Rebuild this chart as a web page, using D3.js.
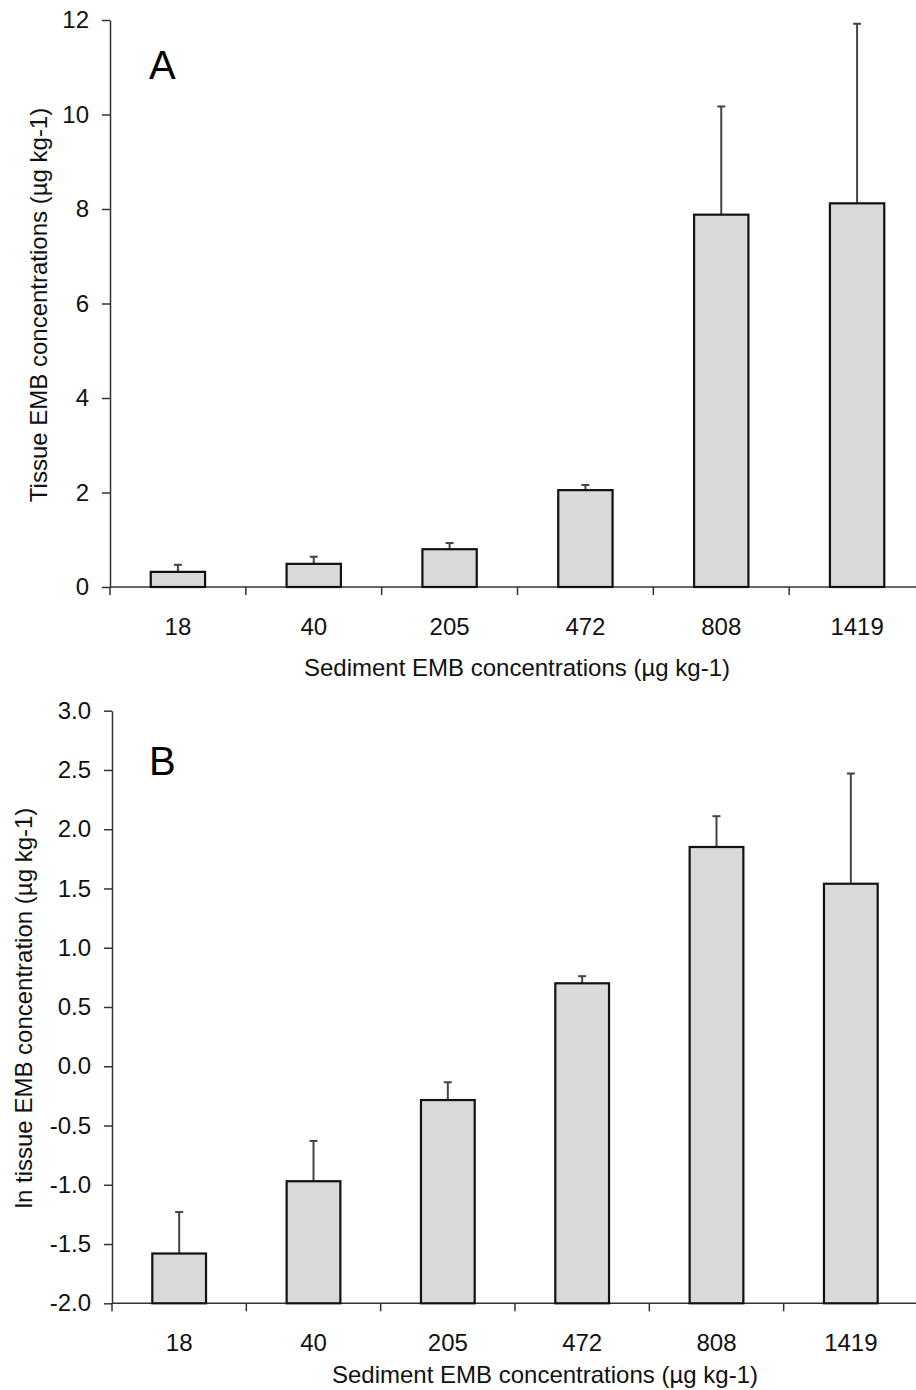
<!DOCTYPE html>
<html><head><meta charset="utf-8">
<script src="https://cdn.jsdelivr.net/npm/d3@7"></script>
<style>body{margin:0;background:#fff}svg{display:block;font-family:"Liberation Sans",Arial,sans-serif}</style>
</head><body><svg id="c" width="916" height="1390"></svg>
<script>
const categories = ["18","40","205","472","808","1419"];
const tissueA = [0.32, 0.49, 0.80, 2.05, 7.88, 8.12];
const errA    = [0.15, 0.15, 0.13, 0.11, 2.29, 3.80];
const lnTissueB = [-1.58, -0.97, -0.285, 0.70, 1.85, 1.54];
const errB      = [0.35, 0.34, 0.15, 0.06, 0.26, 0.93];
const ticksA = [0,2,4,6,8,10,12];
const ticksB = [-2,-1.5,-1,-0.5,0,0.5,1,1.5,2,2.5,3];

const FS = 24;
const svg = d3.select("#c");

function panel(cfg){
  const g = svg.append("g");
  const x = d3.scaleBand().domain(categories).range([cfg.x0, cfg.x1]).paddingInner(0.6).paddingOuter(0.3);
  const y = d3.scaleLinear().domain(cfg.domain).range([cfg.y0, cfg.y1]);
  const base = cfg.domain[0];
  // x axis
  const xa = g.append("g").attr("transform",`translate(0,${cfg.y0})`);
  const bounds = d3.range(categories.length+1).map(i=>cfg.x0 + i*(cfg.x1-cfg.x0)/categories.length);
  xa.append("line").attr("x1",cfg.x0).attr("x2",cfg.x1).attr("stroke","#333").attr("stroke-width",1.5);
  xa.selectAll("line.t").data(bounds).join("line").attr("class","t")
    .attr("x1",d=>d).attr("x2",d=>d).attr("y1",0).attr("y2",8).attr("stroke","#333").attr("stroke-width",1.5);
  xa.selectAll("text").data(categories).join("text")
    .attr("x",d=>x(d)+x.bandwidth()/2).attr("y",cfg.tickLabelY-cfg.y0)
    .attr("text-anchor","middle").attr("font-size",FS).attr("fill","#111").text(d=>d);
  // y axis
  const ya = g.append("g").attr("transform",`translate(${cfg.x0},0)`)
    .call(d3.axisLeft(y).tickValues(cfg.ticks).tickSize(8).tickSizeOuter(0).tickPadding(13).tickFormat(cfg.fmt));
  ya.select(".domain").attr("stroke","#333").attr("stroke-width",1.5);
  ya.selectAll(".tick line").attr("stroke","#333").attr("stroke-width",1.5);
  ya.selectAll(".tick text").attr("font-size",FS).attr("fill","#111").attr("font-family","Liberation Sans, Arial, sans-serif");
  // bars
  const vals = cfg.values;
  g.selectAll("line.err").data(vals).join("line").attr("class","err")
    .attr("x1",(d,i)=>x(categories[i])+x.bandwidth()/2).attr("x2",(d,i)=>x(categories[i])+x.bandwidth()/2)
    .attr("y1",d=>y(d)).attr("y2",(d,i)=>y(d+cfg.errs[i])).attr("stroke","#444").attr("stroke-width",2);
  g.selectAll("line.cap").data(vals).join("line").attr("class","cap")
    .attr("x1",(d,i)=>x(categories[i])+x.bandwidth()/2-4).attr("x2",(d,i)=>x(categories[i])+x.bandwidth()/2+4)
    .attr("y1",(d,i)=>y(d+cfg.errs[i])).attr("y2",(d,i)=>y(d+cfg.errs[i])).attr("stroke","#444").attr("stroke-width",2);
  g.selectAll("rect").data(vals).join("rect")
    .attr("x",(d,i)=>x(categories[i])).attr("width",x.bandwidth())
    .attr("y",d=>y(d)).attr("height",d=>y(base)-y(d))
    .attr("fill","#d9d9d9").attr("stroke","#111").attr("stroke-width",2.2);
  // titles
  g.append("text").attr("x",cfg.xTitleX).attr("y",cfg.xTitleY).attr("text-anchor","middle")
    .attr("font-size",FS).attr("fill","#111").text("Sediment EMB concentrations (µg kg-1)");
  g.append("text").attr("transform",`translate(${cfg.yTitleX},${cfg.yTitleCY}) rotate(-90)`)
    .attr("text-anchor","middle").attr("font-size",FS).attr("fill","#111").text(cfg.yTitle);
  g.append("text").attr("x",cfg.letterX).attr("y",cfg.letterY).attr("font-size",40).attr("fill","#000").text(cfg.letter);
}

const hyphen = f => d => f(d).replace("\u2212","-");
panel({x0:110,x1:925,y0:587,y1:20,domain:[0,12],ticks:ticksA,fmt:hyphen(d3.format("d")),
  values:tissueA,errs:errA,tickLabelY:635,xTitleX:517,xTitleY:676,
  yTitleX:47,yTitleCY:305,yTitle:"Tissue EMB concentrations (µg kg-1)",letter:"A",letterX:149,letterY:79});
panel({x0:112,x1:918,y0:1303.3,y1:710.7,domain:[-2,3],ticks:ticksB,fmt:hyphen(d3.format(".1f")),
  values:lnTissueB,errs:errB,tickLabelY:1351,xTitleX:545,xTitleY:1383,
  yTitleX:32,yTitleCY:1008,yTitle:"ln tissue EMB concentration (µg kg-1)",letter:"B",letterX:149,letterY:775});
</script></body></html>
